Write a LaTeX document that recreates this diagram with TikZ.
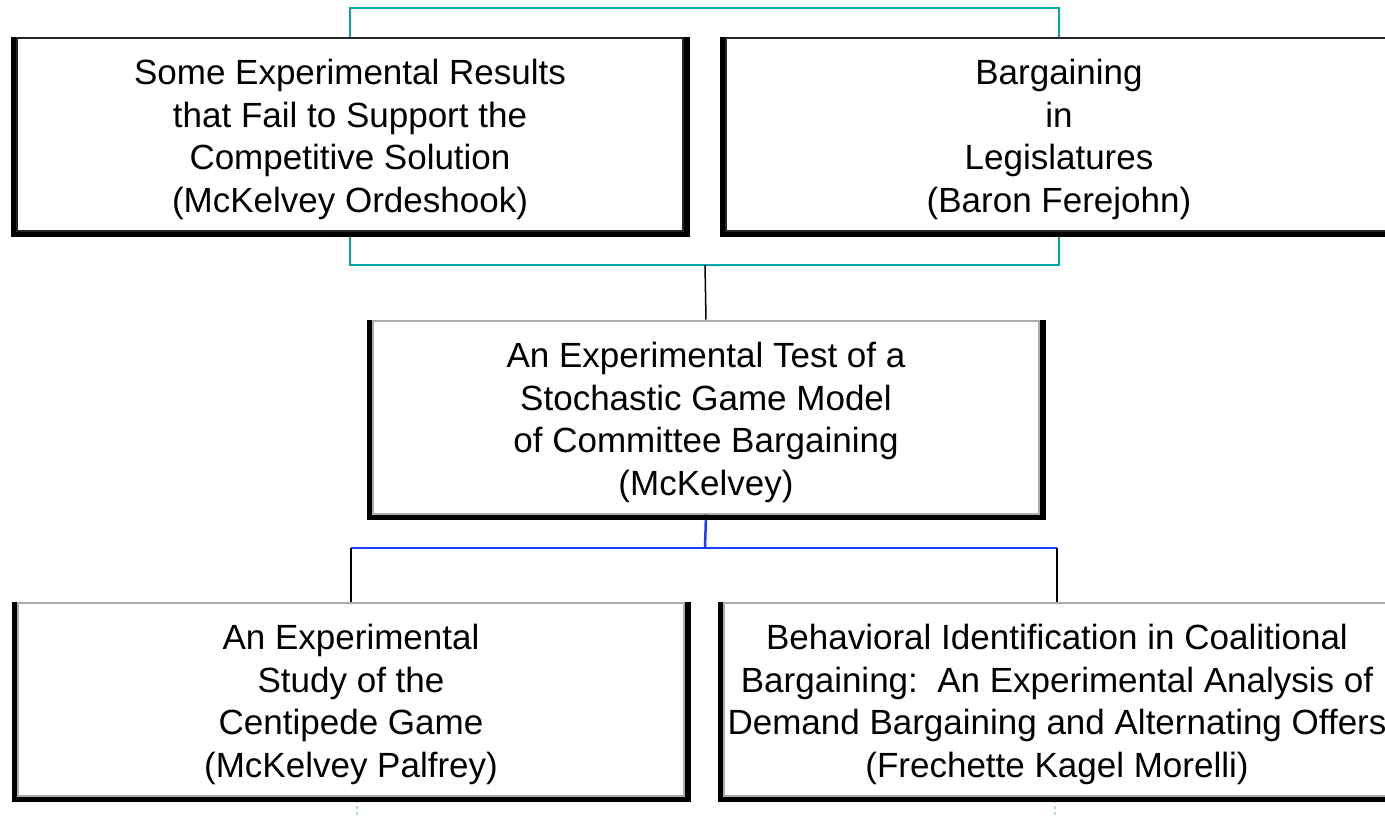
\documentclass[tikz,border=0pt]{standalone}
\usepackage{fontspec}
\setmainfont{Liberation Sans}
\usetikzlibrary{calc}

\definecolor{tealline}{RGB}{0,168,168}
\definecolor{blueline}{RGB}{30,60,255}
\definecolor{stubline}{RGB}{175,220,232}

\newcommand{\lowr}{\rule{0pt}{36pt}}

\tikzset{
  paper/.style={rectangle, fill=white, draw=gray!65, line width=2pt, minimum width=666pt, minimum height=193pt, align=center, font=\fontsize{35}{42.5}\selectfont},
  toppaper/.style={paper, draw=black!85},
  frame/.style={black, line width=5.5pt},
  link/.style={black, line width=1.5pt},
}

\begin{document}
\begin{tikzpicture}[x=1pt, y=-1pt]
      \clip (0,0) rectangle (1385,817);
      \fill[white] (0,0) rectangle (1385,817);

      % connectors
      \coordinate (tj) at (705,265);
      \coordinate (bj) at (705,548);
      \node[toppaper] (res) at (350,134) {\lowr Some Experimental Results\\that Fail to Support the\\Competitive Solution\\(McKelvey Ordeshook)};
      \node[toppaper] (leg) at (1059,134) {\lowr Bargaining\\in\\Legislatures\\(Baron Ferejohn)};
      \node[paper] (test) at (706,417) {\lowr An Experimental Test of a\\Stochastic Game Model\\of Committee Bargaining\\(McKelvey)};
      \node[paper] (cent) at (351,699) {\lowr An Experimental\\Study of the\\Centipede Game\\(McKelvey Palfrey)};
      \node[paper] (coal) at (1057,699) {\lowr Behavioral Identification in Coalitional\\Bargaining:\ \ An Experimental Analysis of\\Demand Bargaining and Alternating Offers\\(Frechette Kagel Morelli)};

      \draw[tealline, line width=2pt] (res.north) -- ++(0,-29) -| (leg.north);
      \draw[tealline, line width=2pt] (res.south) |- (tj) -| (leg.south);
      \draw[link] (tj) -- (test.north);
      \draw[blueline, line width=2.5pt] (test.south) -- (bj);
      \draw[blueline, line width=2.5pt] (cent.north |- bj) -- (coal.north |- bj);
      \draw[link] (cent.north |- bj) -- (cent.north);
      \draw[link] (coal.north |- bj) -- (coal.north);
      \foreach \n/\dx in {cent/6, coal/-2}
        \draw[stubline, line width=2pt, dashed] ([xshift=\dx, yshift=-3]\n.south) -- ++(0,30);

      % raised frames
      \foreach \n in {res, leg, test, cent, coal}
        \draw[frame] ([xshift=-2.75]\n.north west) |- ([xshift=2.75, yshift=-2.75]\n.south east) -- ([xshift=2.75]\n.north east);
\end{tikzpicture}
\end{document}
